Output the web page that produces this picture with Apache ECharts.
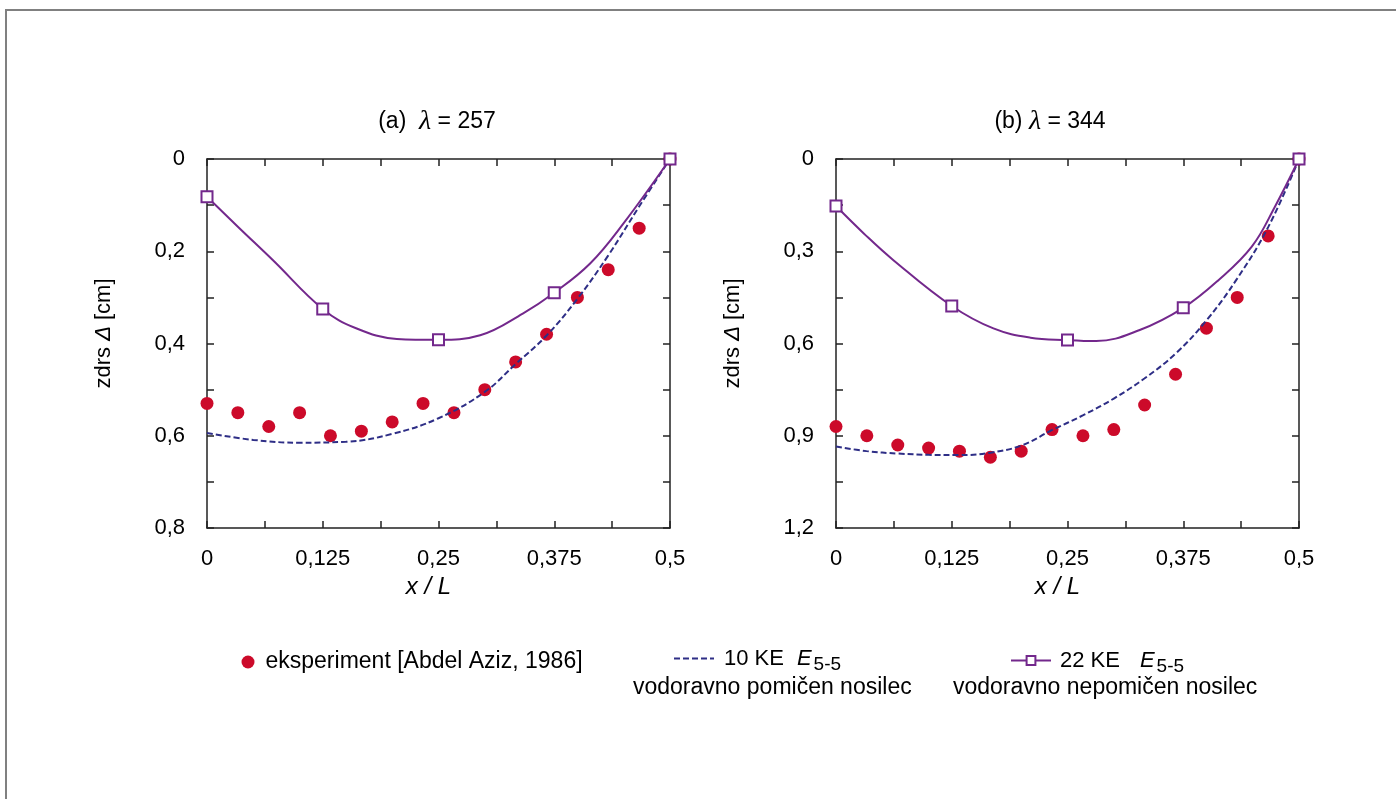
<!DOCTYPE html>
<html><head><meta charset="utf-8">
<script src="https://cdn.jsdelivr.net/npm/echarts@6/dist/echarts.min.js"></script>
<style>html,body{margin:0;padding:0;background:#fff}#c{width:1396px;height:799px}</style>
</head><body><div id="c"></div>
<script>
// ---------- data ----------
const expX = [0, 0.0333, 0.0667, 0.1, 0.1333, 0.1667, 0.2, 0.2333, 0.2667, 0.3, 0.3333, 0.3667, 0.4, 0.4333, 0.4667, 0.5];
const expA = [0.53, 0.55, 0.58, 0.55, 0.60, 0.59, 0.57, 0.53, 0.55, 0.50, 0.44, 0.38, 0.30, 0.24, 0.15, 0];
const expB = [0.87, 0.90, 0.93, 0.94, 0.95, 0.97, 0.95, 0.88, 0.90, 0.88, 0.80, 0.70, 0.55, 0.45, 0.25, 0];

const fe10XA = [0, 0.05, 0.1, 0.15, 0.2, 0.25, 0.3, 0.333, 0.367, 0.4, 0.433, 0.467, 0.5];
const fe10YA = [0.594, 0.609, 0.615, 0.613, 0.596, 0.562, 0.505, 0.445, 0.382, 0.303, 0.210, 0.102, 0];
const fe10XB = [0, 0.033, 0.067, 0.1, 0.133, 0.167, 0.2, 0.233, 0.267, 0.3, 0.333, 0.367, 0.4, 0.433, 0.467, 0.5];
const fe10YB = [0.935, 0.950, 0.958, 0.962, 0.963, 0.955, 0.932, 0.882, 0.833, 0.779, 0.714, 0.632, 0.525, 0.39, 0.22, 0];

const fe22XA = [0, 0.035, 0.071, 0.125, 0.161, 0.205, 0.25, 0.295, 0.341, 0.375, 0.414, 0.45, 0.5];
const fe22YA = [0.082, 0.150, 0.219, 0.325, 0.367, 0.390, 0.392, 0.382, 0.335, 0.290, 0.226, 0.139, 0];
const fe22MarkA = [0, 3, 6, 9, 12];
const fe22XB = [0, 0.03, 0.062, 0.125, 0.17, 0.21, 0.25, 0.281, 0.328, 0.375, 0.413, 0.449, 0.474, 0.5];
const fe22YB = [0.153, 0.242, 0.329, 0.478, 0.551, 0.581, 0.589, 0.592, 0.556, 0.484, 0.394, 0.285, 0.155, 0];
const fe22MarkB = [0, 3, 6, 9, 13];

const xTickLabels = ['0', '0,125', '0,25', '0,375', '0,5'];
const yTickLabelsA = ['0', '0,2', '0,4', '0,6', '0,8'];
const yTickLabelsB = ['0', '0,3', '0,6', '0,9', '1,2'];
const panelTitles = ['(a)', '(b)'];
const panelLambdas = ['257', '344'];
const nameExp = 'eksperiment [Abdel Aziz, 1986]';
const name10 = '10 KE';
const name22 = '22 KE';
const sub10 = 'vodoravno pomičen nosilec';
const sub22 = 'vodoravno nepomičen nosilec';

// ---------- styling ----------
const FONT = "'Liberation Sans', Arial, sans-serif";
const RED = '#cc0a2a', NAVY = '#2e2e86', PURPLE = '#73288c', AX = '#222';

function labelFrom(list, step) {
  return v => { const k = Math.round(v / step); return Math.abs(v - k * step) < 1e-6 ? (list[k] ?? '') : ''; };
}
function pts(xs, ys) { return xs.map((x, i) => [x, ys[i]]); }
function markPts(xs, ys, marks) {
  return xs.map((x, i) => ({ value: [x, ys[i]], symbol: marks.includes(i) ? 'emptyRect' : 'none' }));
}

const grids = [
  { left: 207, top: 159, width: 463, height: 369 },
  { left: 836, top: 159, width: 463, height: 369 }
];
const tick = { inside: true, length: 7, lineStyle: { color: AX, width: 1.5 } };
const line = { show: true, onZero: false, lineStyle: { color: AX, width: 1.5 } };

const xAxes = [], yAxes = [];
[0, 1].forEach(g => {
  xAxes.push({
    type: 'value', gridIndex: g, position: 'bottom', min: 0, max: 0.5, interval: 0.0625,
    axisLine: line, axisTick: tick, splitLine: { show: false },
    axisLabel: { margin: 20, color: '#000', fontSize: 22, fontFamily: FONT, formatter: labelFrom(xTickLabels, 0.125) },
    name: 'x / L', nameLocation: 'middle', nameGap: 47,
    nameTextStyle: { color: '#000', fontSize: 24, fontStyle: 'italic', fontFamily: FONT, padding: [0, 20, 0, 0] }
  });
  xAxes.push({
    type: 'value', gridIndex: g, position: 'top', min: 0, max: 0.5, interval: 0.0625,
    axisLine: line, axisTick: tick, splitLine: { show: false }, axisLabel: { show: false }
  });
  const ymax = g === 0 ? 0.8 : 1.2, yint = g === 0 ? 0.1 : 0.15;
  const ylabels = g === 0 ? yTickLabelsA : yTickLabelsB;
  yAxes.push({
    type: 'value', gridIndex: g, position: 'left', inverse: true, min: 0, max: ymax, interval: yint,
    axisLine: line, axisTick: tick, splitLine: { show: false },
    axisLabel: { margin: 22, color: '#000', fontSize: 22, fontFamily: FONT, formatter: labelFrom(ylabels, yint * 2) },
    name: 'zdrs {d|Δ} [cm]', nameLocation: 'middle', nameRotate: 90, nameGap: 92,
    nameTextStyle: { color: '#000', fontSize: 22, fontFamily: FONT, padding: [0, 0, 0, 20],
      rich: { d: { fontStyle: 'italic', fontSize: 22, fontFamily: FONT, color: '#000' } } }
  });
  yAxes.push({
    type: 'value', gridIndex: g, position: 'right', inverse: true, min: 0, max: ymax, interval: yint,
    axisLine: line, axisTick: tick, splitLine: { show: false }, axisLabel: { show: false }
  });
});

const series = [];
[[expA, fe10XA, fe10YA, fe22XA, fe22YA, fe22MarkA], [expB, fe10XB, fe10YB, fe22XB, fe22YB, fe22MarkB]].forEach((d, g) => {
  series.push({
    name: nameExp, type: 'scatter', xAxisIndex: g * 2, yAxisIndex: g * 2,
    data: pts(expX, d[0]), symbol: 'circle', symbolSize: 13, itemStyle: { color: RED, opacity: 1 }
  });
  series.push({
    name: name10, type: 'line', xAxisIndex: g * 2, yAxisIndex: g * 2, smooth: 0.4,
    data: pts(d[1], d[2]), symbol: 'none', color: NAVY,
    lineStyle: { color: NAVY, width: 2, type: [6, 3] }
  });
  series.push({
    name: name22, type: 'line', xAxisIndex: g * 2, yAxisIndex: g * 2, smooth: 0.4,
    data: markPts(d[3], d[4], d[5]), symbol: 'emptyRect', symbolSize: 11, showSymbol: true,
    color: PURPLE, itemStyle: { color: PURPLE, borderWidth: 1.5 },
    lineStyle: { color: PURPLE, width: 2 }
  });
});

const legTxt = { color: '#000', fontSize: 22, fontFamily: FONT };
function richFor(pPad, ePad) {
  return {
    p: { fontSize: 22, fontFamily: FONT, color: '#000', padding: [0, 0, 0, pPad] },
    e: { fontSize: 22, fontFamily: FONT, color: '#000', fontStyle: 'italic', padding: [0, 0, 0, ePad] },
    s: { fontSize: 19, fontFamily: FONT, color: '#000', padding: [13, 0, 0, 2] }
  };
}
const legends = [
  { data: [nameExp], left: 241.5, top: 650.5, padding: 0, itemWidth: 13, itemHeight: 13, selectedMode: false,
    formatter: n => '{p|' + n + '}',
    textStyle: Object.assign({}, legTxt, { rich: { p: { fontSize: 23, fontFamily: FONT, color: '#000', padding: [0, 0, 0, 6] } } }) },
  { data: [name10], left: 673, top: 647.5, padding: 0, itemWidth: 40, itemHeight: 11, selectedMode: false,
    itemStyle: { opacity: 0 },
    formatter: n => '{p|' + n + '}{e|E}{s|5-5}',
    textStyle: Object.assign({}, legTxt, { rich: richFor(5, 13) }) },
  { data: [name22], left: 1010, top: 649.5, padding: 0, itemWidth: 40, itemHeight: 11, selectedMode: false,
    formatter: n => '{p|' + n + '}{e|E}{s|5-5}',
    textStyle: Object.assign({}, legTxt, { rich: richFor(4, 20) }) }
];

const titleRich = { l: { fontStyle: 'italic', fontFamily: "'Liberation Serif', serif", fontSize: 28, fill: '#000' } };
const graphic = [
  { type: 'line', shape: { x1: 5, y1: 10, x2: 1396, y2: 10 }, style: { stroke: '#808080', lineWidth: 2 } },
  { type: 'line', shape: { x1: 6, y1: 10, x2: 6, y2: 799 }, style: { stroke: '#808080', lineWidth: 2 } },
  { type: 'text', x: 437, y: 122, style: { text: panelTitles[0] + '  {l|λ} = ' + panelLambdas[0], align: 'center', verticalAlign: 'middle', fontSize: 23, fontFamily: FONT, fill: '#000', rich: titleRich } },
  { type: 'text', x: 1050, y: 122, style: { text: panelTitles[1] + ' {l|λ} = ' + panelLambdas[1], align: 'center', verticalAlign: 'middle', fontSize: 23, fontFamily: FONT, fill: '#000', rich: titleRich } },
  { type: 'text', x: 633, y: 688, style: { text: sub10, align: 'left', verticalAlign: 'middle', fontSize: 23, fontFamily: FONT, fill: '#000' } },
  { type: 'text', x: 953, y: 688, style: { text: sub22, align: 'left', verticalAlign: 'middle', fontSize: 23, fontFamily: FONT, fill: '#000' } }
];

const chart = echarts.init(document.getElementById('c'), null, { renderer: 'canvas' });
chart.setOption({
  animation: false,
  backgroundColor: '#fff',
  grid: grids,
  xAxis: xAxes,
  yAxis: yAxes,
  legend: legends,
  series: series,
  graphic: graphic
});
</script></body></html>
